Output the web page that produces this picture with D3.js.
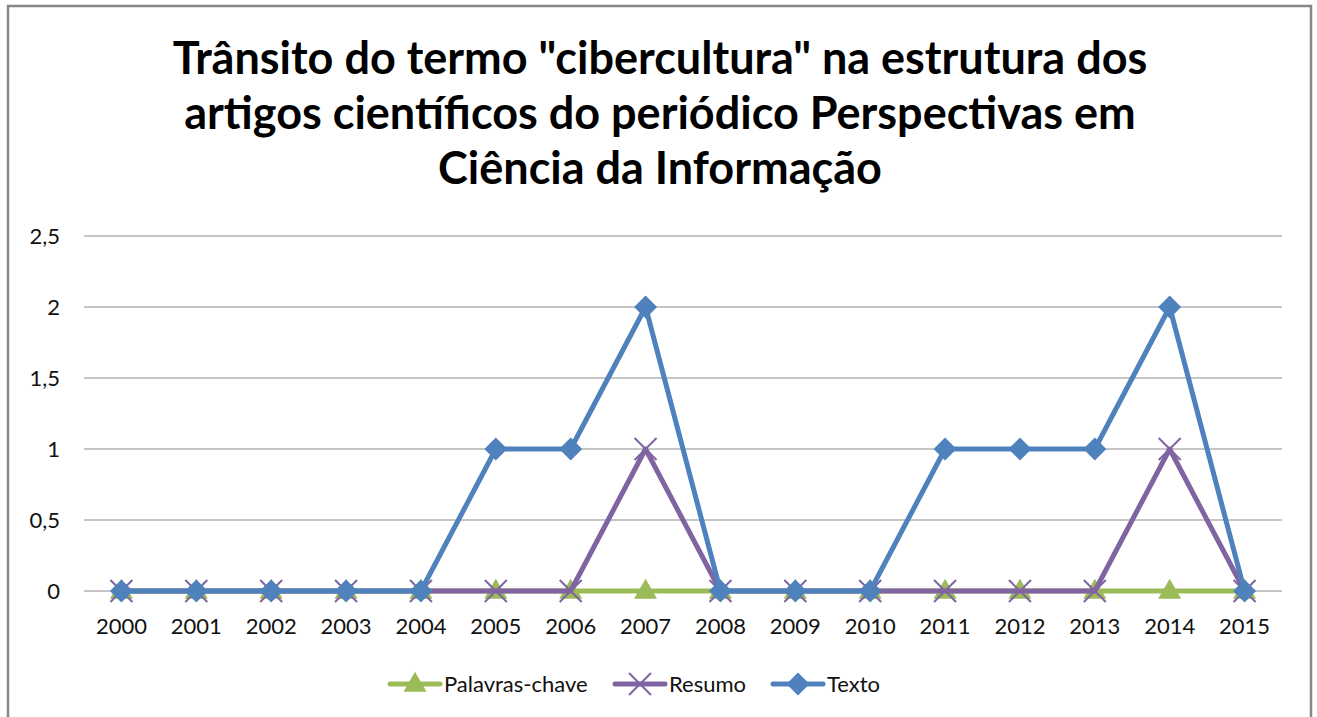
<!DOCTYPE html>
<html><head><meta charset="utf-8">
<script src="https://cdn.jsdelivr.net/npm/d3@7"></script>
<style>body{margin:0;background:#fff}svg{display:block}</style>
</head><body><svg id="c" width="1317" height="717"></svg>
<script>
const years = ["2000","2001","2002","2003","2004","2005","2006","2007","2008","2009","2010","2011","2012","2013","2014","2015"];
const palavrasChave = [0,0,0,0,0,0,0,0,0,0,0,0,0,0,0,0];
const resumo = [0,0,0,0,0,0,0,1,0,0,0,0,0,0,1,0];
const texto = [0,0,0,0,0,1,1,2,0,0,0,1,1,1,2,0];
const yTicks = [0,0.5,1,1.5,2,2.5];
const titleLines = ["Trânsito do termo \"cibercultura\" na estrutura dos","artigos científicos do periódico Perspectivas em","Ciência da Informação"];

const svg = d3.select("#c");
const font = "Lato, 'Open Sans', sans-serif";
// frame
svg.append("path").attr("d","M8,717 V6 H1311 V717").attr("fill","none").attr("stroke","#868686").attr("stroke-width",2.5);

const x = d3.scaleBand().domain(years).range([84,1282]);
const y = d3.scaleLinear().domain([0,2.5]).range([591,236]);
const cx = d => x(d)+x.bandwidth()/2;

// title
svg.append("g").selectAll("text").data(titleLines).join("text")
  .attr("x",660).attr("y",(d,i)=>74+i*55).attr("text-anchor","middle")
  .attr("font-family",font).attr("font-weight","bold").attr("font-size",45).attr("fill","#000").text(d=>d);

// grid
svg.append("g").selectAll("line").data(yTicks).join("line")
  .attr("x1",84).attr("x2",1282).attr("y1",d=>y(d)).attr("y2",d=>y(d))
  .attr("stroke","#8c8c8c").attr("stroke-width",1);

const fmt = d => String(d).replace(".",",");
const ya = svg.append("g").attr("transform","translate(84,0)").call(d3.axisLeft(y).tickValues(yTicks).tickFormat(fmt).tickSize(0).tickPadding(24));
ya.select(".domain").remove();
ya.selectAll("text").attr("font-family",font).attr("font-size",22).attr("fill","#111");

const xa = svg.append("g").attr("transform","translate(0,591)").call(d3.axisBottom(x).tickSize(0).tickPadding(27));
xa.select(".domain").remove();
xa.selectAll("text").attr("font-family",font).attr("font-size",22).attr("fill","#111");

const series = [
  {name:"Palavras-chave", vals:palavrasChave, color:"#9BBB59", marker:"tri"},
  {name:"Resumo", vals:resumo, color:"#8064A2", marker:"x"},
  {name:"Texto", vals:texto, color:"#4F81BD", marker:"dia"}
];
const line = d3.line().x((d,i)=>cx(years[i])).y(d=>y(d));

function marker(g, type, color){
  if(type==="tri"){
    g.append("path").attr("d",d3.symbol(d3.symbolTriangle,230)()).attr("fill",color).attr("transform","translate(0,1)");
  } else if(type==="x"){
    g.append("path").attr("d","M-11,-11L11,11M-11,11L11,-11").attr("stroke",color).attr("stroke-width",2).attr("fill","none");
  } else {
    g.append("path").attr("d","M0,-11.5L11.5,0L0,11.5L-11.5,0Z").attr("fill",color);
  }
}

series.forEach(s=>{
  svg.append("path").datum(s.vals).attr("d",line).attr("fill","none")
    .attr("stroke",s.color).attr("stroke-width",5).attr("stroke-linejoin","round");
  s.vals.forEach((v,i)=>{
    const g = svg.append("g").attr("transform",`translate(${cx(years[i])},${y(v)})`);
    marker(g,s.marker,s.color);
  });
});

// legend
const legX = [390,615,773];
series.forEach((s,i)=>{
  const g = svg.append("g").attr("transform",`translate(${legX[i]},684)`);
  g.append("line").attr("x1",0).attr("x2",50).attr("stroke",s.color).attr("stroke-width",5).attr("stroke-linecap","round");
  const m = g.append("g").attr("transform","translate(25,0)");
  marker(m,s.marker,s.color);
  g.append("text").attr("x",54).attr("y",8).attr("font-family",font).attr("font-size",22).attr("fill","#111").text(s.name);
});
</script></body></html>
